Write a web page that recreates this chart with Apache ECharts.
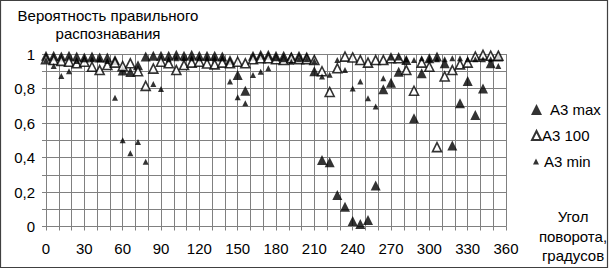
<!DOCTYPE html>
<html><head><meta charset="utf-8">
<script src="https://cdn.jsdelivr.net/npm/echarts@6/dist/echarts.min.js"></script>
<style>html,body{margin:0;padding:0;background:#fff}#c{width:609px;height:269px}</style>
</head><body><div id="c"></div>
<script>
const angles = [0,6,12,18,24,30,36,42,48,54,60,66,72,78,84,90,96,102,108,114,120,126,132,138,144,150,156,162,168,174,180,186,192,198,204,210,216,222,228,234,240,246,252,258,264,270,276,282,288,294,300,306,312,318,324,330,336,342,348,354];
const a3max = [0.99,0.99,0.985,0.99,0.985,0.98,0.985,0.98,0.98,0.965,
  0.905,0.895,0.935,0.985,0.99,0.99,0.99,0.995,0.99,0.995,
  0.99,0.99,0.99,0.985,0.965,0.878,0.787,0.99,0.995,0.995,
  0.99,0.99,0.985,0.99,0.985,0.9,0.386,0.372,0.183,0.115,
  0.032,0.014,0.038,0.237,0.795,0.834,0.897,0.965,0.627,0.888,
  0.975,0.985,0.946,0.47,0.714,0.843,0.646,0.80,0.946,0.985];
const a3_100 = [0.97,0.965,0.96,0.955,0.946,0.955,0.926,0.907,0.936,0.95,
  0.93,0.946,0.90,0.815,0.915,0.955,0.946,0.907,0.936,0.95,
  0.955,0.945,0.94,0.95,0.946,0.955,0.946,0.97,0.975,0.975,
  0.97,0.965,0.975,0.97,0.97,0.965,0.9,0.78,0.917,0.985,
  0.98,0.965,0.95,0.965,0.965,0.975,0.975,0.907,0.787,0.95,
  0.926,0.46,0.87,0.907,0.94,0.95,0.985,0.995,0.99,0.99];
const a3min = [0.965,0.93,0.872,0.90,0.96,0.97,0.97,0.97,0.96,0.746,
  0.50,0.424,0.49,0.376,0.826,0.797,0.97,0.975,0.975,0.975,
  0.975,0.975,0.975,0.975,0.84,0.749,0.714,0.878,0.897,0.917,
  0.975,0.97,0.955,0.97,0.97,0.96,0.87,0.88,0.965,0.907,
  0.80,0.84,0.743,0.695,0.86,0.98,0.98,0.97,0.965,0.975,
  0.97,0.97,0.97,0.975,0.975,0.97,0.97,0.97,0.97,0.93];
const seriesNames = ['A3 max','A3 100','A3 min'];
const yTitle = 'Вероятность правильного\nраспознавания';
const xTitle = 'Угол\nповорота,\nградусов';

const FONT = "'Liberation Sans', Arial, sans-serif";
const FS = 15;
const pairs = v => angles.map((a,i)=>[a,v[i]]);
const chart = echarts.init(document.getElementById('c'), null, {renderer:'svg'});
chart.setOption({
  animation:false,
  backgroundColor:'#fff',
  textStyle:{fontFamily:FONT, color:'#000'},
  title:[
    {text:yTitle, left:103, top:1, textAlign:'center',
     textStyle:{fontFamily:FONT,fontSize:FS,fontWeight:'normal',color:'#000',lineHeight:18}},
    {text:xTitle, left:568, top:202, textAlign:'center',
     textStyle:{fontFamily:FONT,fontSize:FS,fontWeight:'normal',color:'#000',lineHeight:19.5}}
  ],
  grid:{left:46, top:54, width:460, height:172.5},
  xAxis:{type:'value', min:0, max:360, interval:10,
    axisLine:{show:true, lineStyle:{color:'#808080', width:1}},
    axisTick:{show:true, length:4, lineStyle:{color:'#808080'}},
    splitLine:{show:true, lineStyle:{color:'#808080', width:1}},
    axisLabel:{fontFamily:FONT, fontSize:FS, color:'#000', margin:14,
      formatter:v => (Math.round(v)%30===0 ? String(Math.round(v)) : '')}
  },
  yAxis:{type:'value', min:0, max:1, interval:0.1,
    axisLine:{show:true, lineStyle:{color:'#808080', width:1}},
    axisTick:{show:true, length:4, lineStyle:{color:'#808080'}},
    splitLine:{show:true, lineStyle:{color:'#808080', width:1}},
    axisLabel:{fontFamily:FONT, fontSize:FS, color:'#000', margin:11,
      formatter:v => {const t=Math.round(v*10); if(t%2) return ''; if(t===0) return '0'; if(t===10) return '1'; return (t/10).toFixed(1).replace('.',',');}}
  },
  legend:[
    {data:[seriesNames[0]], left:526, top:97, itemWidth:11, itemHeight:11, itemGap:0,
     textStyle:{fontFamily:FONT,fontSize:FS,color:'#000',padding:[0,0,0,3]}},
    {data:[seriesNames[1]], left:526, top:123, itemWidth:9, itemHeight:9, itemGap:0,
     textStyle:{fontFamily:FONT,fontSize:FS,color:'#000',padding:[0,0,0,-4]}},
    {data:[seriesNames[2]], left:528, top:149, itemWidth:6, itemHeight:6, itemGap:0,
     textStyle:{fontFamily:FONT,fontSize:FS,color:'#000',padding:[0,0,0,0]}}
  ],
  series:[
    {name:seriesNames[0], type:'scatter', symbol:'triangle', symbolSize:[10,10],
     itemStyle:{color:'#000'}, data:pairs(a3max), z:2},
    {name:seriesNames[1], type:'scatter', symbol:'triangle', symbolSize:[9,9],
     itemStyle:{color:'#fff', borderColor:'#000', borderWidth:1.6}, data:pairs(a3_100), z:3},
    {name:seriesNames[2], type:'scatter', symbol:'triangle', symbolSize:[6,6],
     itemStyle:{color:'#000'}, data:pairs(a3min), z:4}
  ],
  graphic:[{type:'rect', silent:true, z:100,
    shape:{x:0.5,y:0.5,width:607,height:267},
    style:{fill:'none', stroke:'#404040', lineWidth:1.2}}]
});
</script></body></html>
